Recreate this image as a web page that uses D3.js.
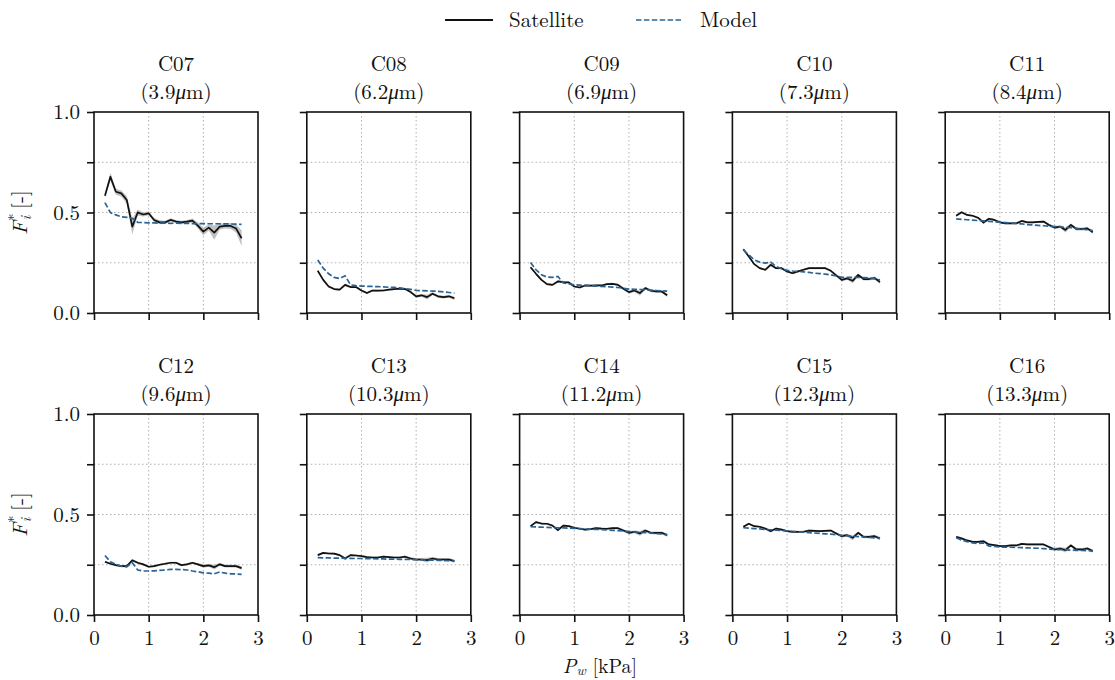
<!DOCTYPE html>
<html>
<head>
<meta charset="utf-8">
<script src="https://cdn.jsdelivr.net/npm/d3@7"></script>
<style>
  body { margin: 0; background: #fff; }
  .grid line { stroke: #b0b0b0; stroke-width: 1; stroke-dasharray: 1.5,2.5; }
  .axis path, .axis line { stroke: #111; stroke-width: 1.6; }
</style>
</head>
<body>
<div id="chart"></div>
<script>
// pressure of water vapour [kPa]
var pw = [0.2,0.3,0.4,0.5,0.6,0.7,0.8,0.9,1.0,1.1,1.2,1.3,1.4,1.5,1.6,1.7,1.8,1.9,2.0,2.1,2.2,2.3,2.4,2.5,2.6,2.7];

var channels = ['C07','C08','C09','C10','C11','C12','C13','C14','C15','C16'];
var wavelengths = ['3.9','6.2','6.9','7.3','8.4','9.6','10.3','11.2','12.3','13.3'];

var sat07 = [0.583,0.678,0.603,0.595,0.562,0.430,0.500,0.490,0.496,0.463,0.451,0.451,0.463,0.455,0.451,0.455,0.460,0.435,0.405,0.425,0.400,0.430,0.433,0.433,0.420,0.372];
var sat08 = [0.210,0.165,0.132,0.119,0.116,0.140,0.129,0.129,0.112,0.099,0.112,0.111,0.112,0.116,0.119,0.121,0.119,0.104,0.083,0.088,0.079,0.096,0.083,0.079,0.083,0.073];
var sat09 = [0.228,0.195,0.165,0.144,0.140,0.157,0.154,0.152,0.132,0.127,0.137,0.136,0.137,0.137,0.144,0.145,0.140,0.121,0.104,0.112,0.099,0.124,0.111,0.107,0.107,0.088];
var sat10 = [0.317,0.281,0.243,0.223,0.215,0.240,0.223,0.223,0.207,0.198,0.207,0.215,0.223,0.223,0.223,0.223,0.210,0.187,0.165,0.172,0.160,0.190,0.169,0.169,0.174,0.154];
var sat11 = [0.484,0.501,0.488,0.484,0.474,0.450,0.469,0.463,0.451,0.446,0.446,0.446,0.458,0.451,0.451,0.453,0.455,0.438,0.425,0.430,0.413,0.438,0.418,0.418,0.421,0.402];
var sat12 = [0.265,0.255,0.248,0.243,0.243,0.272,0.260,0.252,0.240,0.243,0.250,0.255,0.260,0.260,0.248,0.252,0.260,0.252,0.243,0.247,0.238,0.252,0.243,0.243,0.243,0.233];
var sat13 = [0.298,0.309,0.306,0.305,0.298,0.281,0.298,0.296,0.293,0.288,0.286,0.286,0.290,0.288,0.286,0.286,0.290,0.281,0.276,0.276,0.273,0.281,0.276,0.276,0.276,0.268];
var sat14 = [0.442,0.462,0.455,0.454,0.445,0.422,0.445,0.442,0.434,0.429,0.425,0.427,0.432,0.430,0.429,0.432,0.432,0.420,0.409,0.414,0.406,0.420,0.409,0.409,0.409,0.397];
var sat15 = [0.439,0.454,0.442,0.439,0.430,0.417,0.430,0.425,0.417,0.414,0.414,0.414,0.420,0.419,0.417,0.419,0.420,0.406,0.392,0.397,0.384,0.409,0.389,0.389,0.392,0.381];
var sat16 = [0.389,0.381,0.371,0.364,0.364,0.367,0.351,0.348,0.343,0.343,0.346,0.346,0.354,0.351,0.351,0.351,0.351,0.338,0.326,0.331,0.323,0.346,0.326,0.326,0.331,0.318];

var mod07 = [0.549,0.500,0.488,0.479,0.476,0.471,0.451,0.450,0.448,0.448,0.447,0.447,0.446,0.447,0.446,0.446,0.445,0.445,0.445,0.444,0.444,0.444,0.443,0.443,0.442,0.441];
var mod08 = [0.264,0.223,0.195,0.177,0.172,0.185,0.140,0.136,0.134,0.133,0.132,0.131,0.130,0.128,0.127,0.125,0.121,0.118,0.113,0.111,0.110,0.109,0.108,0.105,0.102,0.099];
var mod09 = [0.251,0.215,0.190,0.179,0.177,0.182,0.149,0.145,0.140,0.139,0.137,0.136,0.134,0.132,0.131,0.129,0.127,0.123,0.119,0.118,0.117,0.116,0.114,0.112,0.110,0.109];
var mod10 = [0.314,0.289,0.264,0.253,0.248,0.253,0.231,0.220,0.212,0.209,0.207,0.205,0.202,0.198,0.196,0.193,0.190,0.184,0.177,0.177,0.177,0.177,0.176,0.174,0.170,0.165];
var mod11 = [0.468,0.466,0.464,0.462,0.460,0.458,0.456,0.454,0.452,0.450,0.448,0.446,0.443,0.440,0.438,0.436,0.434,0.432,0.430,0.428,0.426,0.424,0.421,0.418,0.414,0.410];
var mod12 = [0.296,0.265,0.252,0.243,0.240,0.260,0.224,0.219,0.219,0.220,0.222,0.224,0.227,0.227,0.226,0.224,0.219,0.215,0.210,0.208,0.205,0.214,0.208,0.205,0.204,0.202];
var mod13 = [0.285,0.284,0.284,0.283,0.283,0.282,0.282,0.281,0.281,0.280,0.280,0.279,0.279,0.278,0.278,0.277,0.277,0.276,0.275,0.274,0.273,0.273,0.272,0.271,0.270,0.268];
var mod14 = [0.439,0.438,0.437,0.436,0.435,0.434,0.433,0.432,0.431,0.430,0.428,0.427,0.426,0.425,0.423,0.421,0.420,0.418,0.415,0.413,0.411,0.410,0.408,0.405,0.403,0.400];
var mod15 = [0.434,0.432,0.430,0.428,0.426,0.424,0.422,0.420,0.418,0.416,0.414,0.412,0.410,0.408,0.406,0.404,0.402,0.399,0.396,0.394,0.392,0.390,0.388,0.386,0.384,0.381];
var mod16 = [0.384,0.373,0.365,0.359,0.356,0.359,0.343,0.341,0.338,0.337,0.337,0.336,0.335,0.334,0.333,0.332,0.330,0.328,0.326,0.325,0.324,0.323,0.322,0.321,0.320,0.318];

// half width of the shaded satellite spread
var band07 = [0.010,0.020,0.015,0.015,0.020,0.040,0.015,0.010,0.010,0.010,0.010,0.008,0.008,0.008,0.008,0.008,0.010,0.015,0.020,0.015,0.035,0.015,0.012,0.015,0.020,0.040];
var bandLow = [0.005,0.005,0.005,0.005,0.005,0.007,0.005,0.005,0.005,0.005,0.005,0.005,0.005,0.005,0.005,0.005,0.005,0.006,0.008,0.007,0.012,0.007,0.007,0.007,0.007,0.008];

var satellite = [sat07, sat08, sat09, sat10, sat11, sat12, sat13, sat14, sat15, sat16];
var model = [mod07, mod08, mod09, mod10, mod11, mod12, mod13, mod14, mod15, mod16];
var bands = [band07, bandLow, bandLow, bandLow, bandLow, bandLow, bandLow, bandLow, bandLow, bandLow];

var xTicks = [0, 1, 2, 3];
var yTicks = [0, 0.25, 0.5, 0.75, 1.0];

var width = 1115, height = 680;
var left0 = 94, colStep = 212.8, pw_ = 164, ph = 201;
var tops = [112, 414];
var satColor = '#111', modColor = '#2a6496';
var font = "'Latin Modern Roman', 'Liberation Serif', serif";
var fs = '21px', fsSmall = '15px';

var svg = d3.select('#chart').append('svg')
  .attr('width', width).attr('height', height);

function txt(sel) {
  return sel.style('font-family', font).style('font-size', fs).attr('fill', '#111');
}

var x = d3.scaleLinear().domain([0, 3]).range([0, pw_]);
var y = d3.scaleLinear().domain([0, 1]).range([ph, 0]);

var line = d3.line().x(function(d) { return x(d[0]); }).y(function(d) { return y(d[1]); });
var area = d3.area()
  .x(function(d) { return x(d[0]); })
  .y0(function(d) { return y(d[1] - d[2]); })
  .y1(function(d) { return y(d[1] + d[2]); });

channels.forEach(function(ch, i) {
  var row = Math.floor(i / 5), col = i % 5;
  var g = svg.append('g')
    .attr('transform', 'translate(' + (left0 + col * colStep) + ',' + tops[row] + ')');

  // grid
  var grid = g.append('g').attr('class', 'grid');
  grid.selectAll('line.gx').data(xTicks.slice(1, 3)).enter().append('line')
    .attr('x1', d => x(d)).attr('x2', d => x(d)).attr('y1', 0).attr('y2', ph);
  grid.selectAll('line.gy').data(yTicks.slice(1, 4)).enter().append('line')
    .attr('y1', d => y(d)).attr('y2', d => y(d)).attr('x1', 0).attr('x2', pw_);

  var pts = pw.map(function(p, k) { return [p, satellite[i][k], bands[i][k]]; });
  var mpts = pw.map(function(p, k) { return [p, model[i][k]]; });

  g.append('path').datum(pts)
    .attr('d', area)
    .attr('fill', '#a0a0a0').attr('fill-opacity', 0.65).attr('stroke', 'none');

  g.append('path').datum(pts)
    .attr('d', line)
    .attr('fill', 'none').attr('stroke', satColor).attr('stroke-width', 1.7)
    .attr('stroke-linejoin', 'round');

  g.append('path').datum(mpts)
    .attr('d', line)
    .attr('fill', 'none').attr('stroke', modColor).attr('stroke-width', 1.7)
    .attr('stroke-dasharray', '5.5,2.4');

  // axes
  var xAxis = d3.axisBottom(x).tickValues(xTicks).tickSize(7).tickPadding(8)
    .tickFormat(row === 1 ? d3.format('d') : '');
  var yAxis = d3.axisLeft(y).tickValues(yTicks).tickSize(7).tickPadding(7)
    .tickFormat(function(d) { return (col === 0 && (d === 0 || d === 0.5 || d === 1)) ? d3.format('.1f')(d) : ''; });

  g.append('g').attr('class', 'axis').attr('transform', 'translate(0,' + ph + ')').call(xAxis)
    .call(s => s.select('.domain').remove())
    .selectAll('text').call(txt);
  g.append('g').attr('class', 'axis').call(yAxis)
    .call(s => s.select('.domain').remove())
    .selectAll('text').call(txt);

  // frame
  g.append('rect').attr('width', pw_).attr('height', ph)
    .attr('fill', 'none').attr('stroke', '#111').attr('stroke-width', 1.6);

  // two-line title: channel and central wavelength
  txt(g.append('text').attr('text-anchor', 'middle').attr('x', pw_ / 2).attr('y', -41)).text(ch);
  var t2 = txt(g.append('text').attr('text-anchor', 'middle').attr('x', pw_ / 2).attr('y', -13));
  t2.append('tspan').text('(' + wavelengths[i]);
  t2.append('tspan').style('font-style', 'italic').text('\u03bc');
  t2.append('tspan').text('m)');

  if (col === 0) {
    var yl = g.append('text')
      .attr('transform', 'translate(-67,' + (ph / 2) + ') rotate(-90)')
      .attr('text-anchor', 'middle').call(txt);
    yl.append('tspan').style('font-style', 'italic').text('F');
    yl.append('tspan').attr('dy', -8).style('font-size', fsSmall).text('*');
    yl.append('tspan').attr('dx', -7).attr('dy', 12).style('font-size', fsSmall).style('font-style', 'italic').text('i');
    yl.append('tspan').attr('dy', -4).text(' [-]');
  }
});

// x axis label
var xl = svg.append('text').attr('x', 600).attr('y', 673).attr('text-anchor', 'middle').call(txt)
  .style('font-size', '20px');
xl.append('tspan').style('font-style', 'italic').text('P');
xl.append('tspan').attr('dy', 2).style('font-size', '14px').style('font-style', 'italic').text('w');
xl.append('tspan').attr('dy', -2).text(' [kPa]');

// legend
var legend = svg.append('g').attr('transform', 'translate(0,20)');
legend.append('line').attr('x1', 445).attr('x2', 493).attr('stroke', satColor).attr('stroke-width', 1.8);
legend.append('text').attr('x', 509).attr('y', 7).call(txt).text('Satellite');
legend.append('line').attr('x1', 636).attr('x2', 682).attr('stroke', modColor).attr('stroke-width', 1.7)
  .attr('stroke-dasharray', '5.5,2.4');
legend.append('text').attr('x', 700).attr('y', 7).call(txt).text('Model');
</script>
</body>
</html>
